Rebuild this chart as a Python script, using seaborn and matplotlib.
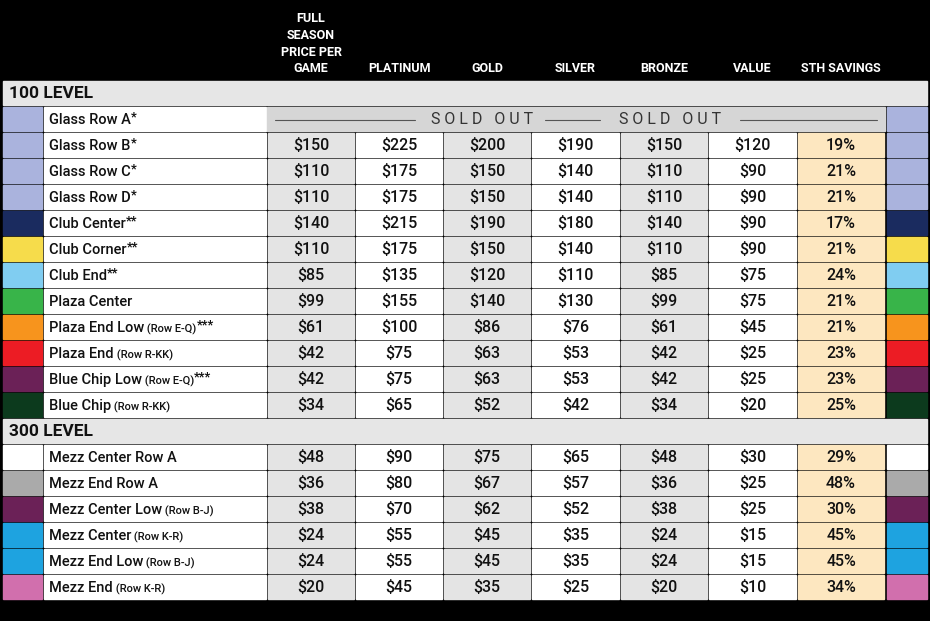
import matplotlib
matplotlib.use("Agg")
import matplotlib.pyplot as plt
import seaborn as sns
from matplotlib.patches import Rectangle

sns.set_theme(style="white")

columns = ["FULL\nSEASON\nPRICE PER\nGAME", "PLATINUM", "GOLD", "SILVER", "BRONZE", "VALUE", "STH SAVINGS"]
sections = ["100 LEVEL", "300 LEVEL"]
names_100 = [("Glass Row A", "", "*"), ("Glass Row B", "", "*"), ("Glass Row C", "", "*"), ("Glass Row D", "", "*"),
             ("Club Center", "", "**"), ("Club Corner", "", "**"), ("Club End", "", "**"), ("Plaza Center", "", ""),
             ("Plaza End Low", " (Row E-Q)", "***"), ("Plaza End", " (Row R-KK)", ""),
             ("Blue Chip Low", " (Row E-Q)", "***"), ("Blue Chip", " (Row R-KK)", "")]
names_300 = [("Mezz Center Row A", "", ""), ("Mezz End Row A", "", ""), ("Mezz Center Low", " (Row B-J)", ""),
             ("Mezz Center", " (Row K-R)", ""), ("Mezz End Low", " (Row B-J)", ""), ("Mezz End", " (Row K-R)", "")]
colors_100 = ["#aab3dd", "#aab3dd", "#aab3dd", "#aab3dd", "#1a2b5f", "#f6dc4b", "#80cdf1", "#38b449",
              "#f7941d", "#ec1c24", "#6b2157", "#0c3a1d"]
colors_300 = ["#ffffff", "#aaaaaa", "#6b2157", "#1ea3e0", "#1ea3e0", "#d16fad"]
season = [None, 150, 110, 110, 140, 110, 85, 99, 61, 42, 42, 34, 48, 36, 38, 24, 24, 20]
platinum = [None, 225, 175, 175, 215, 175, 135, 155, 100, 75, 75, 65, 90, 80, 70, 55, 55, 45]
gold = [None, 200, 150, 150, 190, 150, 120, 140, 86, 63, 63, 52, 75, 67, 62, 45, 45, 35]
silver = [None, 190, 140, 140, 180, 140, 110, 130, 76, 53, 53, 42, 65, 57, 52, 35, 35, 25]
bronze = [None, 150, 110, 110, 140, 110, 85, 99, 61, 42, 42, 34, 48, 36, 38, 24, 24, 20]
value = [None, 120, 90, 90, 90, 90, 75, 75, 45, 25, 25, 20, 30, 25, 25, 15, 15, 10]
savings = [None, 19, 21, 21, 17, 21, 24, 21, 21, 23, 23, 25, 29, 48, 30, 45, 45, 34]

W, H = 930, 621
fig = plt.figure(figsize=(9.3, 6.21), dpi=100)
fig.patch.set_facecolor("black")
ax = fig.add_axes([0, 0, 1, 1])
ax.set_xlim(0, W); ax.set_ylim(H, 0); ax.axis("off")
ax.add_patch(Rectangle((0, 0), W, H, color="black"))

FN = "Roboto"
col_x = [267, 355, 443, 531, 620, 708, 797, 885]
fills = ["#e4e4e4", "#ffffff", "#e4e4e4", "#ffffff", "#e4e4e4", "#ffffff", "#fde7c0"]
RH = 26
for i, c in enumerate(columns):
    ax.text((col_x[i] + col_x[i + 1]) / 2, 75, c, color="white", ha="center", va="bottom",
            fontsize=9, fontweight="bold", family=FN, linespacing=1.35)

renderer = fig.canvas.get_renderer()
data = [season, platinum, gold, silver, bronze, value, savings]
inv = ax.transData.inverted()

def right_edge(t):
    bb = t.get_window_extent(renderer)
    return inv.transform((bb.x1, bb.y0))[0]

def section(y0, title):
    ax.add_patch(Rectangle((3, y0 + 1), 924, RH - 2, color="#e6e6e6"))
    ax.text(9, y0 + RH / 2 + 1, title, fontsize=12.5, fontweight="bold", family=FN, va="center", color="#111")

def row(y0, name, color, idx):
    ax.add_patch(Rectangle((3, y0 + 1), 39, RH - 2, color=color))
    ax.add_patch(Rectangle((887, y0 + 1), 40, RH - 2, color=color))
    ax.add_patch(Rectangle((44, y0 + 1), 222, RH - 2, color="white"))
    yc = y0 + RH / 2 + 1
    t = ax.text(49, yc, name[0], fontsize=10.5, fontweight="medium", family=FN, va="center", color="#111")
    x = right_edge(t)
    if name[1]:
        t2 = ax.text(x, yc + 1, name[1], fontsize=8, fontweight="medium", family=FN, va="center", color="#111")
        x = right_edge(t2)
    if name[2]:
        ax.text(x, yc - 3, name[2], fontsize=9, fontweight="bold", family=FN, va="center", color="#111")
    if data[0][idx] is None:
        ax.add_patch(Rectangle((267, y0 + 1), 618, RH - 2, color="#d6d6d6"))
        for a, b in [(275, 415), (545, 600), (740, 877)]:
            ax.plot([a, b], [yc, yc], color="#555", lw=0.8)
        for xc in (482, 670):
            ax.text(xc, yc, "S O L D   O U T", fontsize=11.5, family=FN, ha="center", va="center", color="#333")
        return
    for j in range(7):
        ax.add_patch(Rectangle((col_x[j] + 1, y0 + 1), col_x[j + 1] - col_x[j] - 2, RH - 2, color=fills[j]))
        v = data[j][idx]
        s = f"{v}%" if j == 6 else f"${v}"
        ax.text((col_x[j] + col_x[j + 1]) / 2, yc, s, fontsize=11.5, fontweight="medium", family=FN,
                ha="center", va="center", color="#111")

y = 80
section(y, sections[0]); y += RH
idx = 0
for n, c in zip(names_100, colors_100):
    row(y, n, c, idx); y += RH; idx += 1
section(y, sections[1]); y += RH
for n, c in zip(names_300, colors_300):
    row(y, n, c, idx); y += RH; idx += 1

fig.savefig("out.png", dpi=100, facecolor="black")
